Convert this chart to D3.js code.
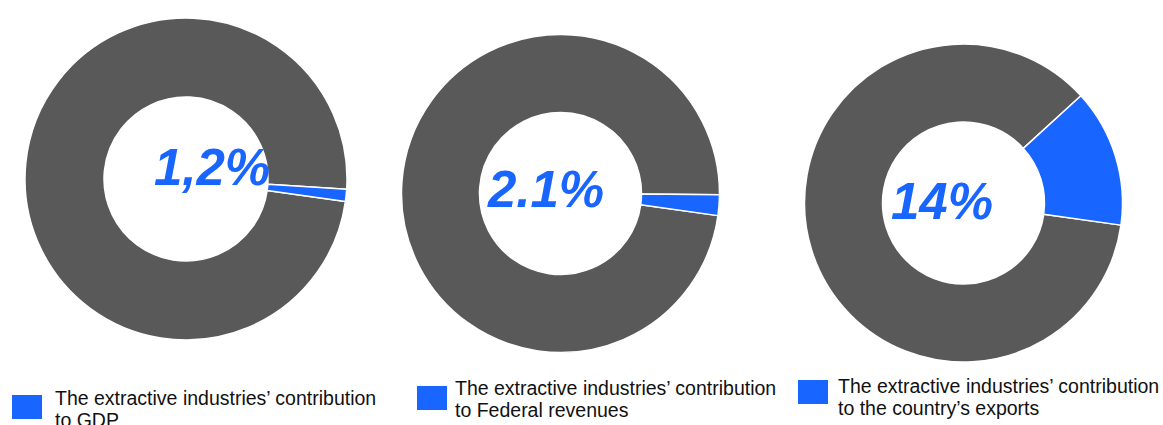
<!DOCTYPE html>
<html>
	<head>
		<meta charset="UTF-8">
		<title></title>
		<script src="https://d3js.org/d3.v7.min.js"></script>
		<style>
			body { margin: 0; background: #fff; }
			svg { display: block; }
		</style>
	</head>
	<body>
		<div id="svg"></div>
		<script>
      // data
      const shares = [1.2, 2.1, 14]            // share of the extractive industries, %
      const shareLabels = ['1,2%', '2.1%', '14%']
      const captionLine1 = ['The extractive industries’ contribution', 'The extractive industries’ contribution', 'The extractive industries’ contribution']
      const captionLine2 = ['to GDP', 'to Federal revenues', 'to the country’s exports']

      // layout only
      const centers = [[186, 179], [560.5, 193.5], [963.5, 203]]
      const outerR = [161, 159, 159]
      const innerR = [82, 81, 81]
      const labelPos = [[212, 185], [546, 207], [942, 219]]
      const legendPos = [[12, 395], [417, 386], [798, 380]]
      const legendText = [[55, 405], [455, 395], [838, 393]]

      const grey = '#595959', blue = '#1866ff'

      const svg = d3.select('#svg').append('svg').attr('width', 1163).attr('height', 425)

      // grey slice first, starting a little below 3 o'clock; blue closes the circle
      const start = 98 * Math.PI / 180
      const pie = d3.pie().sort(null).value(d => d.v).startAngle(start).endAngle(start + 2 * Math.PI)

      shares.forEach((s, i) => {
        const arcPath = d3.arc().innerRadius(innerR[i]).outerRadius(outerR[i])
        const g = svg.append('g').attr('transform', `translate(${centers[i]})`)
        g.selectAll('path').data(pie([{v: 100 - s, c: grey}, {v: s, c: blue}])).enter().append('path')
          .attr('d', arcPath).attr('fill', d => d.data.c)
          .attr('stroke', '#fff').attr('stroke-width', 1.5).attr('stroke-linejoin', 'round')

        svg.append('text').attr('x', labelPos[i][0]).attr('y', labelPos[i][1])
          .attr('text-anchor', 'middle').attr('fill', blue)
          .attr('font-family', 'Liberation Sans, Arial, sans-serif')
          .attr('font-weight', 'bold').attr('font-style', 'italic').attr('font-size', '51px')
          .text(shareLabels[i])

        // legend
        svg.append('rect').attr('x', legendPos[i][0]).attr('y', legendPos[i][1])
          .attr('width', 30).attr('height', 24).attr('fill', blue)
        const t = svg.append('text').attr('x', legendText[i][0]).attr('y', legendText[i][1])
          .attr('fill', '#111').attr('font-family', 'Liberation Sans, Arial, sans-serif').attr('font-size', '19.5px')
        t.append('tspan').attr('x', legendText[i][0]).text(captionLine1[i])
        t.append('tspan').attr('x', legendText[i][0]).attr('dy', 21.7).text(captionLine2[i])
      })
		</script>
	</body>
</html>
